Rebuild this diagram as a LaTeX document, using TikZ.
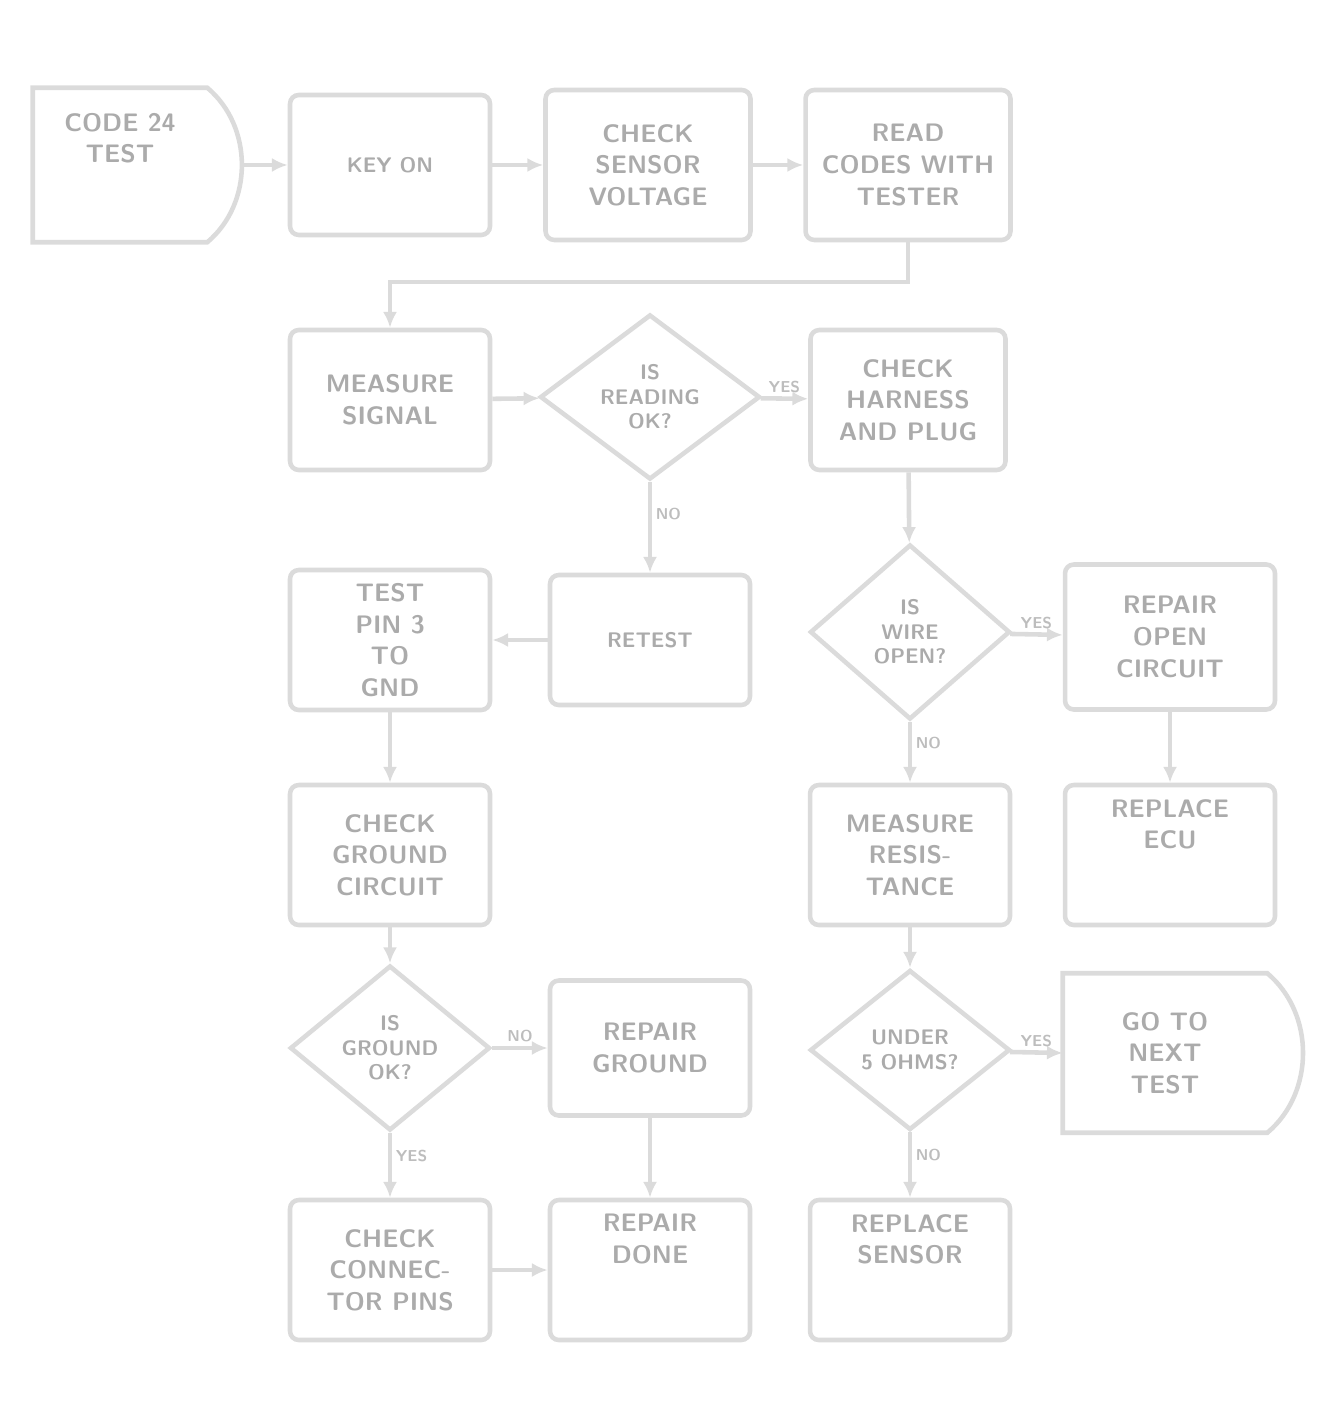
\documentclass[tikz,border=0pt]{standalone}
\usepackage{amsmath}
\usetikzlibrary{arrows.meta, shapes.geometric}

\tikzset{
  box/.style={draw=gray!28, line width=2.6pt, rounded corners=5pt, minimum width=4cm, minimum height=2.8cm, align=center, font=\sffamily\bfseries\Large, text=gray!66},
  endbox/.style={box, draw=none},
  dec/.style={diamond, draw=gray!28, line width=2.6pt, aspect=1.3, inner sep=0pt, minimum width=4cm, minimum height=3.3cm, align=center, font=\sffamily\bfseries\large, text=gray!66},
  link/.style={draw=gray!28, line width=2.6pt, -{Latex[length=9pt,width=8pt]}},
  ans/.style={font=\sffamily\bfseries\small, text=gray!52, inner sep=2pt},
}

\begin{document}
\begin{tikzpicture}[x=0.02cm, y=-0.02cm]
\useasboundingbox (0,0) rectangle (1335,1415);
%\draw[step=50,gray,very thin] (0,0) grid (1335,1415); %background grid
%---------------------------------------------------
\node[endbox, minimum width=3.4cm, minimum height=3cm] (start) at (120,165) {CODE 24\\TEST\\[0.9em]};
\draw[gray!28, line width=2.6pt] (start.north west) -- (start.north east) to[bend left=50] (start.south east) -- (start.south west) -- cycle;
\coordinate (starttip) at ([xshift=0.7cm]start.east);
\node[box] (keyon) at (390,165) {\large KEY ON};
\node[box, minimum width=4.1cm, minimum height=3cm] (volt) at (648,165) {CHECK\\SENSOR\\VOLTAGE};
\node[box, minimum width=4.1cm, minimum height=3cm] (read) at (908,165) {READ\\CODES WITH\\TESTER};
%---------------------------------------------------
\node[box] (signal) at (390,400) {MEASURE\\SIGNAL};
\node[dec, minimum width=4.4cm] (sigok) at (650,397) {IS\\READING\\OK?};
\node[box, minimum width=3.9cm] (harness) at (908,400) {CHECK\\HARNESS\\AND PLUG};
%---------------------------------------------------
\node[box] (pin) at (390,640) {TEST\\PIN 3\\TO\\GND};
\node[box, minimum height=2.6cm] (retest) at (650,640) {\large RETEST};
\node[dec, minimum height=3.5cm] (open) at (910,632) {IS\\WIRE\\OPEN?};
\node[box, minimum width=4.2cm, minimum height=2.9cm] (repopen) at (1170,637) {REPAIR\\OPEN\\CIRCUIT};
%---------------------------------------------------
\node[box] (ground) at (390,855) {CHECK\\GROUND\\CIRCUIT};
\node[box] (resist) at (910,855) {MEASURE\\RESIS-\\TANCE};
\node[box, minimum width=4.2cm] (ecu) at (1170,855) {REPLACE\\ECU\\[1.2em]};
%---------------------------------------------------
\node[dec] (gndok) at (390,1048) {IS\\GROUND\\OK?};
\node[box, minimum height=2.7cm] (repgnd) at (650,1048) {REPAIR\\GROUND};
\node[dec, minimum height=3.2cm] (ohms) at (910,1050) {UNDER\\5 OHMS?};
\node[endbox, minimum width=4cm, minimum height=3.1cm] (next) at (1165,1053) {GO TO\\NEXT\\TEST};
\draw[gray!28, line width=2.6pt] (next.north west) -- (next.north east) to[bend left=50] (next.south east) -- (next.south west) -- cycle;
%---------------------------------------------------
\node[box] (term) at (390,1270) {CHECK\\CONNEC-\\TOR PINS};
\node[box] (done) at (650,1270) {REPAIR\\DONE\\[1.2em]};
\node[box] (sensor) at (910,1270) {REPLACE\\SENSOR\\[1.2em]};
%-----------------------------------------------
\coordinate (readturn) at (908,282);
\draw[link] (starttip) -- (keyon);
\draw[link] (keyon) -- (volt);
\draw[link] (volt) -- (read);
\draw[link] (read.south) -- (readturn) -| (signal.north);
\draw[link] (signal) -- (sigok);
\draw[link] (sigok) -- node[ans, above] {YES} (harness);
\draw[link] (sigok) -- node[ans, right, pos=0.35] {NO} (retest);
\draw[link] (retest) -- (pin);
\draw[link] (pin) -- (ground);
\draw[link] (ground) -- (gndok);
\draw[link] (gndok) -- node[ans, above] {NO} (repgnd);
\draw[link] (gndok) -- node[ans, right, pos=0.35] {YES} (term);
\draw[link] (repgnd) -- (done);
\draw[link] (term) -- (done);
%------------------------------------------------
\draw[link] (harness) -- (open);
\draw[link] (open) -- node[ans, above] {YES} (repopen);
\draw[link] (open) -- node[ans, right, pos=0.35] {NO} (resist);
\draw[link] (repopen) -- (ecu);
\draw[link] (resist) -- (ohms);
\draw[link] (ohms) -- node[ans, above] {YES} (next.west);
\draw[link] (ohms) -- node[ans, right, pos=0.35] {NO} (sensor);

\end{tikzpicture}
\end{document}
